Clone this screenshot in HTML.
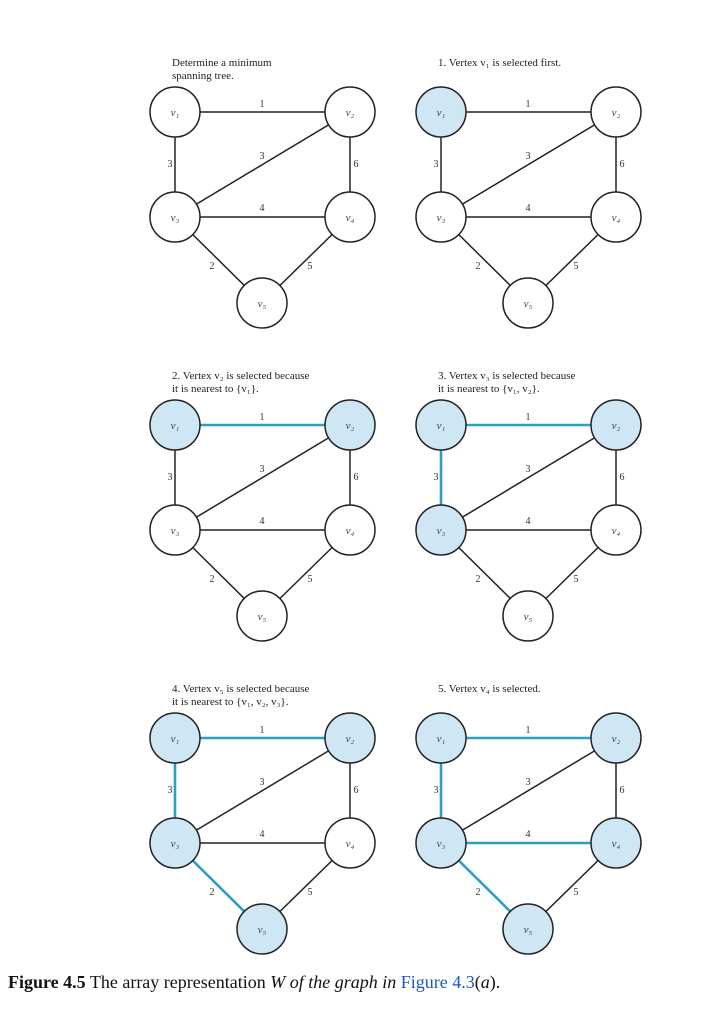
<!DOCTYPE html>
<html><head><meta charset="utf-8"><style>
body{margin:0;background:#fff;width:720px;height:1018px;overflow:hidden}
svg{position:absolute;left:0;top:0}
.t{font-family:"Liberation Serif",serif;font-size:11px;fill:#222}
.l{font-family:"Liberation Serif",serif;font-size:10px;fill:#333;text-anchor:middle}
.n{font-family:"Liberation Serif",serif;font-size:11px;font-style:italic;fill:#444;text-anchor:middle}
.cap{position:absolute;left:8px;top:972px;font-family:"Liberation Serif",serif;font-size:18px;color:#111}
.cap a{color:#1a56c8;text-decoration:none}
</style></head><body>
<svg width="720" height="1018" xmlns="http://www.w3.org/2000/svg">
<g id="panels"></g>
</svg>
<div class="cap"><b>Figure 4.5</b> The array representation <i>W of the graph in </i><a>Figure 4.3</a>(<i>a</i>).</div>
<script>
const P=[
 {x:0,y:0,t:["Determine a minimum","spanning tree."],v:[],e:[]},
 {x:266,y:0,t:["1. Vertex v\u2081 is selected first."],v:[1],e:[]},
 {x:0,y:313,t:["2. Vertex v\u2082 is selected because","it is nearest to {v\u2081}."],v:[1,2],e:["12"]},
 {x:266,y:313,t:["3. Vertex v\u2083 is selected because","it is nearest to {v\u2081, v\u2082}."],v:[1,2,3],e:["12","13"]},
 {x:0,y:626,t:["4. Vertex v\u2085 is selected because","it is nearest to {v\u2081, v\u2082, v\u2083}."],v:[1,2,3,5],e:["12","13","35"]},
 {x:266,y:626,t:["5. Vertex v\u2084 is selected."],v:[1,2,3,4,5],e:["12","13","35","34"]}
];
const N={1:[175,112],2:[350,112],3:[175,217],4:[350,217],5:[262,303]};
const E=[["12","1",262,107],["13","3",170,167],["23","3",262,159],["24","6",356,167],["34","4",262,211],["35","2",212,269],["45","5",310,269]];
const sub=["","\u2081","\u2082","\u2083","\u2084","\u2085"];
let s="";
for(const p of P){
 s+=`<g transform="translate(${p.x},${p.y})">`;
 p.t.forEach((l,i)=>s+=`<text class="t" x="172" y="${66+i*13}">${l}</text>`);
 for(const [k,lab,lx,ly] of E){
  const a=N[k[0]],b=N[k[1]],on=p.e.includes(k);
  s+=`<line x1="${a[0]}" y1="${a[1]}" x2="${b[0]}" y2="${b[1]}" stroke="${on?'#2b9fc6':'#222'}" stroke-width="${on?2.6:1.5}"/>`;
  s+=`<text class="l" x="${lx}" y="${ly}">${lab}</text>`;
 }
 for(let i=1;i<=5;i++){
  const c=N[i],on=p.v.includes(i);
  s+=`<circle cx="${c[0]}" cy="${c[1]}" r="25" fill="${on?'#cfe6f4':'#fff'}" stroke="#222" stroke-width="1.5"/>`;
  s+=`<text class="n" x="${c[0]}" y="${c[1]+4}">v${sub[i]}</text>`;
 }
 s+=`</g>`;
}
document.getElementById("panels").innerHTML=s;
</script>
</body></html>
